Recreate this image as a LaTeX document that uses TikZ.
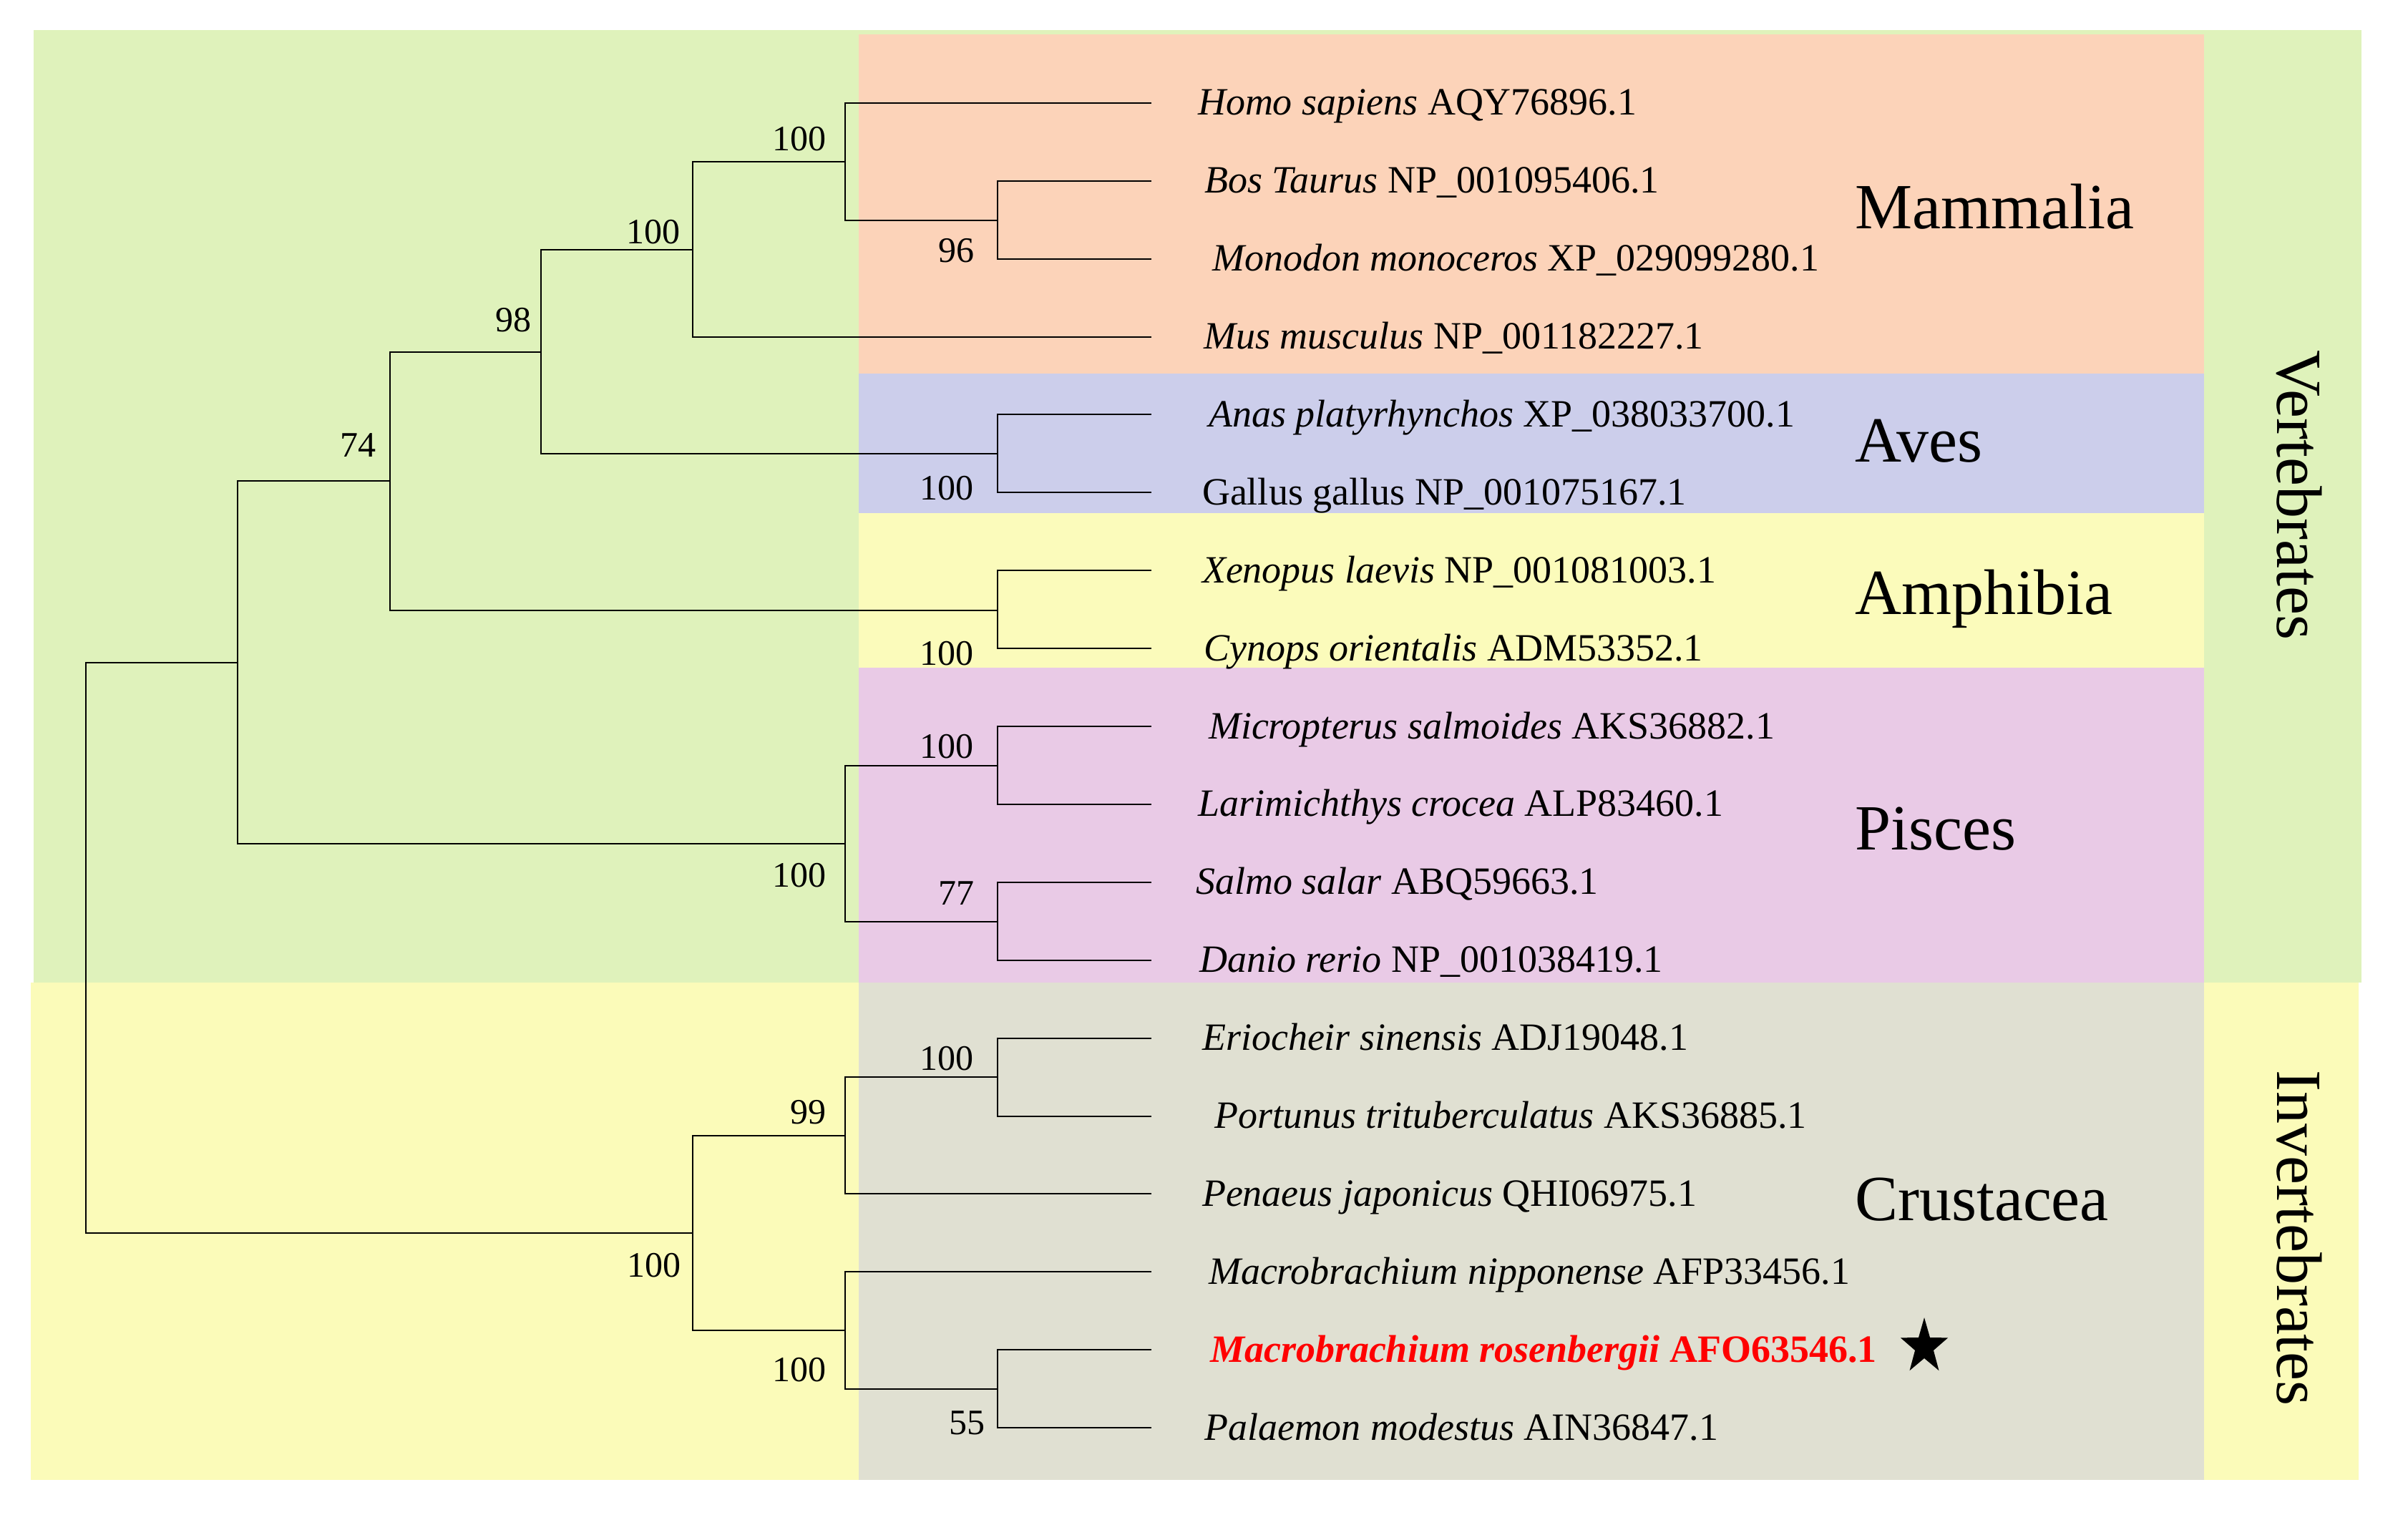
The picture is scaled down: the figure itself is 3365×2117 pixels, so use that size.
\documentclass[tikz,border=0pt]{standalone}
\usepackage{fontspec}
\setmainfont{Liberation Serif}

\definecolor{vertgreen}{RGB}{223,242,187}
\definecolor{invyellow}{RGB}{251,251,185}
\definecolor{mamsalmon}{RGB}{252,211,185}
\definecolor{avesblue}{RGB}{204,206,235}
\definecolor{amphyellow}{RGB}{251,251,187}
\definecolor{pispink}{RGB}{233,202,230}
\definecolor{crustgray}{RGB}{224,224,210}

\begin{document}
\begin{tikzpicture}[x=1pt, y=-1pt, line width=2pt, line cap=rect,
    leaf/.style={anchor=base west, inner sep=0pt, font=\fontsize{54}{60}\selectfont},
    boot/.style={anchor=base east, inner sep=0pt, font=\fontsize{50}{56}\selectfont},
    group/.style={anchor=base west, inner sep=0pt, font=\fontsize{90}{100}\selectfont},
    side/.style={anchor=base, inner sep=0pt, rotate=-90, font=\fontsize{90}{100}\selectfont}]
    \useasboundingbox (0,0) rectangle (3365,2117);
    % background bands
    \fill[vertgreen] (47,42) rectangle (3300,1373);
    \fill[invyellow] (43,1373) rectangle (3296,2068);
    \fill[mamsalmon] (1200,48) rectangle (3080,522);
    \fill[avesblue] (1200,522) rectangle (3080,717);
    \fill[amphyellow] (1200,717) rectangle (3080,933);
    \fill[pispink] (1200,933) rectangle (3080,1373);
    \fill[crustgray] (1200,1373) rectangle (3080,2068);

    % leaves
    \foreach \i/\tx/\name in {
        0/1673/{\textit{Homo sapiens} AQY76896.1},
        1/1682/{\textit{Bos Taurus} NP\_001095406.1},
        2/1693/{\textit{Monodon monoceros} XP\_029099280.1},
        3/1681/{\textit{Mus musculus} NP\_001182227.1},
        4/1688/{\textit{Anas platyrhynchos} XP\_038033700.1},
        5/1679/{Gallus gallus NP\_001075167.1},
        6/1679/{\textit{Xenopus laevis} NP\_001081003.1},
        7/1681/{\textit{Cynops orientalis} ADM53352.1},
        8/1688/{\textit{Micropterus salmoides} AKS36882.1},
        9/1673/{\textit{Larimichthys crocea} ALP83460.1},
        10/1670/{\textit{Salmo salar} ABQ59663.1},
        11/1675/{\textit{Danio rerio} NP\_001038419.1},
        12/1679/{\textit{Eriocheir sinensis} ADJ19048.1},
        13/1696/{\textit{Portunus trituberculatus} AKS36885.1},
        14/1679/{\textit{Penaeus japonicus} QHI06975.1},
        15/1688/{\textit{Macrobrachium nipponense} AFP33456.1},
        16/1690/{\color{red}\bfseries\textit{Macrobrachium rosenbergii} AFO63546.1},
        17/1682/{\textit{Palaemon modestus} AIN36847.1}}{
        \coordinate (l\i) at (1608,{143.8+108.9*\i});
        \node[leaf] (t\i) at (\tx,{160.8+108.9*\i}) {\name};
    }

    % clades
    \coordinate (mA) at (1394,308.4);
    \coordinate (mB) at (1181,226.1);
    \coordinate (mC) at (968,348.8);
    \coordinate (av) at (1394,634.4);
    \coordinate (nD) at (756,491.6);
    \coordinate (am) at (1394,852.9);
    \coordinate (nE) at (545,672.2);
    \coordinate (pA) at (1394,1070.2);
    \coordinate (pB) at (1394,1288.0);
    \coordinate (pC) at (1181,1179.1);
    \coordinate (nF) at (332,925.7);
    \coordinate (cA) at (1394,1505.1);
    \coordinate (cB) at (1181,1586.8);
    \coordinate (cC) at (1394,1940.6);
    \coordinate (cD) at (1181,1858.9);
    \coordinate (cE) at (968,1722.8);
    \coordinate (root) at (120,1324.3);
    \foreach \p/\c in {mA/l1, mA/l2, mB/l0, mB/mA, mC/mB, mC/l3, av/l4, av/l5,
        nD/mC, nD/av, am/l6, am/l7, nE/nD, nE/am, pA/l8, pA/l9, pB/l10, pB/l11,
        pC/pA, pC/pB, nF/nE, nF/pC, cA/l12, cA/l13, cB/cA, cB/l14, cC/l16, cC/l17,
        cD/l15, cD/cC, cE/cB, cE/cD, root/nF, root/cE}
        \draw (\p) |- (\c);

    % bootstrap values
    \foreach \n/\pos/\v in {bmB/{1155,210}/100, bmA/{1362,366}/96, bmC/{951,340}/100,
        bnD/{743,463}/98, bnE/{526,638}/74, bav/{1361,698}/100, bam/{1361,929}/100,
        bpA/{1361,1059}/100, bpC/{1155,1239}/100, bpB/{1362,1264}/77,
        bcA/{1361,1495}/100, bcB/{1155,1570}/99, bcE/{952,1784}/100,
        bcD/{1155,1930}/100, bcC/{1377,2004}/55}
        \node[boot] (\n) at (\pos) {\v};

    % groups
    \node[group] (mam) at (2591,319) {Mammalia};
    \node[group] (ave) at (2591,645) {Aves};
    \node[group] (amp) at (2591,858) {Amphibia};
    \node[group] (pis) at (2591,1187) {Pisces};
    \node[group] (cru) at (2591,1705) {Crustacea};
    \node[side] (vert) at (3182,692) {Vertebrates};
    \node[side] (invert) at (3182,1730) {Invertebrates};

    % star
    \coordinate (star) at (2689,1882);
    \fill[shift={(star)}, xscale=0.85] (270:41) -- (306:16) -- (342:41) -- (18:16)
        -- (54:41) -- (90:16) -- (126:41) -- (162:16) -- (198:41) -- (234:16) -- cycle;
\end{tikzpicture}
\end{document}
